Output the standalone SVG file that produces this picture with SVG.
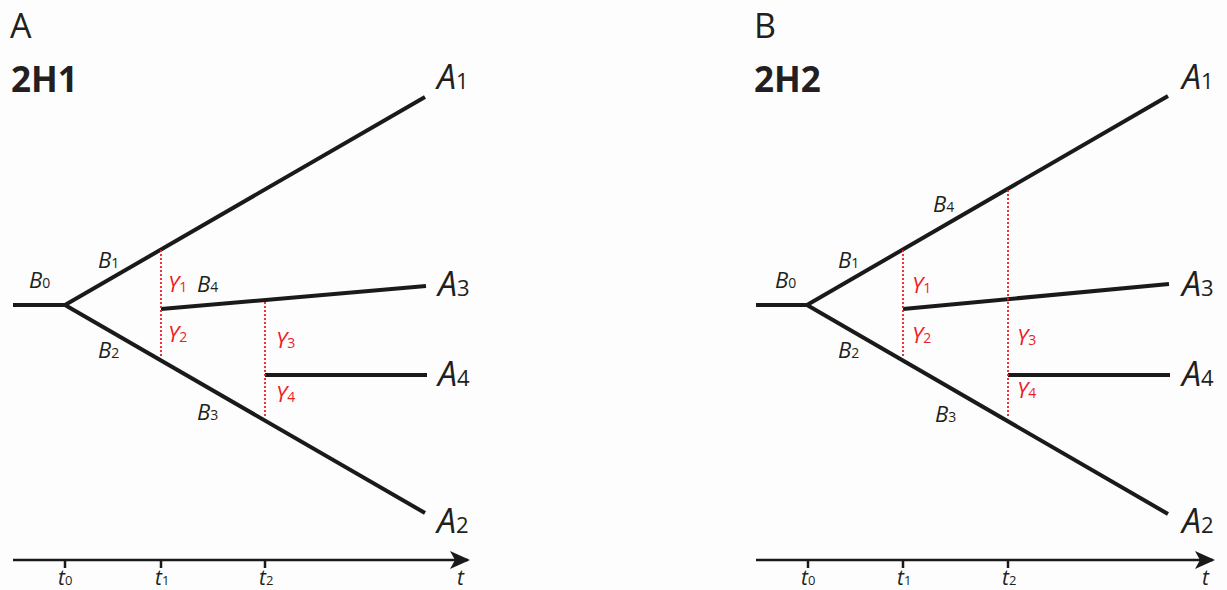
<svg xmlns="http://www.w3.org/2000/svg" width="1227" height="590" viewBox="0 0 1227 590">
<defs>
<marker id="arr" viewBox="0 0 20 18" refX="18" refY="9" markerWidth="20" markerHeight="18" markerUnits="userSpaceOnUse" orient="auto">
<path d="M0,0 L20,9 L0,18 L5,9 Z" fill="#1a1a1a"/>
</marker>
</defs>
<style>
text{font-family:"Open Sans","Noto Sans",sans-serif;fill:#231f20}
.br{stroke:#1a1a1a;stroke-width:4;fill:none;stroke-linecap:butt}
.ax{stroke:#1a1a1a;stroke-width:2.5;fill:none}
.tk{stroke:#1a1a1a;stroke-width:2.5}
.rd{stroke:#ee1c25;stroke-width:1.8;stroke-dasharray:2,2;fill:none}
.it{font-style:italic}
.lb{font-size:22px}
.sb{font-size:14px;font-style:normal}
.al{font-size:34px}
.as{font-size:22px;font-style:normal}
.tl{font-size:21px}
.ts{font-size:13px;font-style:normal}
.red{fill:#ee1c25}
.pn{font-size:34px}
.ti{font-size:35px;font-weight:bold}
</style>
<rect width="1227" height="590" fill="#fdfdfd"/>

<g id="panelA">
<text x="10" y="38" class="pn">A</text>
<text x="11" y="92" class="ti">2H1</text>
</g>
<g id="panelB">
<text x="754" y="38" class="pn">B</text>
<text x="754" y="92" class="ti">2H2</text>
</g>

<g id="connectors">
<!-- panel A -->
<path class="br" d="M13,305 L65,305 L425,97 M65,305 L425,513"/>
<path class="br" d="M161,309 L426,286"/>
<path class="br" d="M265,375 L427,375"/>
<path class="rd" d="M161,250 V358 M265,302 V418"/>
<path class="ax" d="M13,560 H468" marker-end="url(#arr)"/>
<path class="tk" d="M65,560 V568 M161,560 V568 M265,560 V568"/>
<!-- panel B -->
<path class="br" d="M756,305 L807,305 L1168,96 M807,305 L1168,514"/>
<path class="br" d="M903,309 L1169,284"/>
<path class="br" d="M1008,375 L1170,375"/>
<path class="rd" d="M903,250 V358 M1008,190 V418"/>
<path class="ax" d="M756,560 H1213" marker-end="url(#arr)"/>
<path class="tk" d="M808,560 V568 M903,560 V568 M1008,560 V568"/>
</g>

<g id="labelsA">
<text x="29" y="288" class="lb it">B<tspan class="sb">0</tspan></text>
<text x="98" y="268" class="lb it">B<tspan class="sb">1</tspan></text>
<text x="98" y="358" class="lb it">B<tspan class="sb">2</tspan></text>
<text x="197" y="420" class="lb it">B<tspan class="sb">3</tspan></text>
<text x="197" y="292" class="lb it">B<tspan class="sb">4</tspan></text>
<text x="168" y="292" class="lb it red">Y<tspan class="sb red">1</tspan></text>
<text x="168" y="342" class="lb it red">Y<tspan class="sb red">2</tspan></text>
<text x="276" y="348" class="lb it red">Y<tspan class="sb red">3</tspan></text>
<text x="276" y="402" class="lb it red">Y<tspan class="sb red">4</tspan></text>
<text x="437" y="89" class="al it">A<tspan class="as">1</tspan></text>
<text x="438" y="296" class="al it">A<tspan class="as">3</tspan></text>
<text x="438" y="386" class="al it">A<tspan class="as">4</tspan></text>
<text x="437" y="533" class="al it">A<tspan class="as">2</tspan></text>
<text x="58" y="585" class="tl it">t<tspan class="ts">0</tspan></text>
<text x="155" y="585" class="tl it">t<tspan class="ts">1</tspan></text>
<text x="259" y="585" class="tl it">t<tspan class="ts">2</tspan></text>
<text x="457" y="585" class="tl it">t</text>
</g>

<g id="labelsB">
<text x="775" y="288" class="lb it">B<tspan class="sb">0</tspan></text>
<text x="838" y="268" class="lb it">B<tspan class="sb">1</tspan></text>
<text x="838" y="358" class="lb it">B<tspan class="sb">2</tspan></text>
<text x="935" y="422" class="lb it">B<tspan class="sb">3</tspan></text>
<text x="933" y="212" class="lb it">B<tspan class="sb">4</tspan></text>
<text x="912" y="293" class="lb it red">Y<tspan class="sb red">1</tspan></text>
<text x="912" y="343" class="lb it red">Y<tspan class="sb red">2</tspan></text>
<text x="1017" y="345" class="lb it red">Y<tspan class="sb red">3</tspan></text>
<text x="1017" y="398" class="lb it red">Y<tspan class="sb red">4</tspan></text>
<text x="1182" y="89" class="al it">A<tspan class="as">1</tspan></text>
<text x="1182" y="296" class="al it">A<tspan class="as">3</tspan></text>
<text x="1182" y="386" class="al it">A<tspan class="as">4</tspan></text>
<text x="1182" y="533" class="al it">A<tspan class="as">2</tspan></text>
<text x="801" y="585" class="tl it">t<tspan class="ts">0</tspan></text>
<text x="897" y="585" class="tl it">t<tspan class="ts">1</tspan></text>
<text x="1002" y="585" class="tl it">t<tspan class="ts">2</tspan></text>
<text x="1202" y="585" class="tl it">t</text>
</g>
</svg>
